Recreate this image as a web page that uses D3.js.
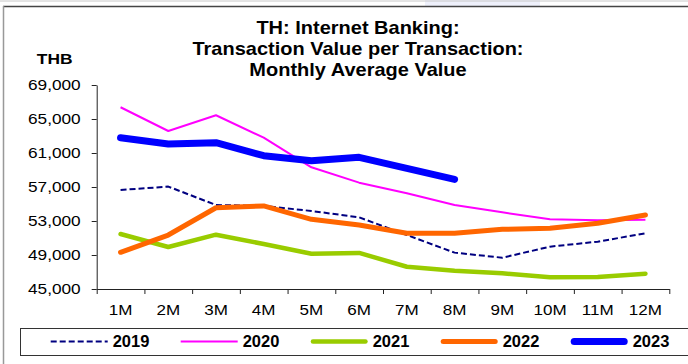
<!DOCTYPE html>
<html>
<head>
<meta charset="utf-8">
<script src="https://cdn.jsdelivr.net/npm/d3@7"></script>
<style>
  html, body { margin: 0; padding: 0; background: #fff; }
  svg { display: block; font-family: "Liberation Sans", Arial, sans-serif; }
</style>
</head>
<body>
<svg id="chart" width="688" height="364"></svg>
<script>
// Monthly average value per internet-banking transaction (THB)
const months = ["1M", "2M", "3M", "4M", "5M", "6M", "7M", "8M", "9M", "10M", "11M", "12M"];
const yTicks = [45000, 49000, 53000, 57000, 61000, 65000, 69000];
const titleLines = ["TH: Internet Banking:", "Transaction Value per Transaction:", "Monthly Average Value"];

const v2019 = [56650, 57050, 54880, 54770, 54180, 53430, 51350, 49280, 48680, 49980, 50570, 51550];
const v2020 = [66380, 63590, 65440, 62800, 59320, 57510, 56260, 54880, 54020, 53200, 53100, 53150];
const v2021 = [51470, 49940, 51390, 50290, 49150, 49240, 47620, 47150, 46850, 46380, 46410, 46800];
const v2022 = [49320, 51350, 54560, 54770, 53200, 52530, 51550, 51550, 52020, 52140, 52730, 53710];
const v2023 = [62800, 62060, 62210, 60680, 60090, 60490, 59200, 57900, null, null, null, null];

const series = [
  { name: "2019", values: v2019, color: "#000080", width: 2, dash: "6,3", cap: "butt" },
  { name: "2020", values: v2020, color: "#FF00FF", width: 2, dash: null, cap: "butt" },
  { name: "2021", values: v2021, color: "#99CC00", width: 4.5, dash: null, cap: "round" },
  { name: "2022", values: v2022, color: "#FF6600", width: 5, dash: null, cap: "round" },
  { name: "2023", values: v2023, color: "#0000FF", width: 7, dash: null, cap: "round" }
];

const svg = d3.select("#chart");

// frame lines
svg.append("rect").attr("x", 425).attr("y", 0).attr("width", 115).attr("height", 6)
  .attr("fill", "#eef0fb");
svg.append("line").attr("x1", 0).attr("x2", 688).attr("y1", 1).attr("y2", 1)
  .attr("stroke", "#c8c8c8").attr("stroke-width", 1);
svg.append("line").attr("x1", 3).attr("x2", 688).attr("y1", 6.5).attr("y2", 6.5)
  .attr("stroke", "#444").attr("stroke-width", 1.5);
svg.append("line").attr("x1", 3.5).attr("x2", 3.5).attr("y1", 6).attr("y2", 364)
  .attr("stroke", "#999").attr("stroke-width", 1.5);

// scales
const xBand = d3.scaleBand().domain(months).range([96.7, 669.3]).padding(0);
const xPos = m => xBand(m) + xBand.bandwidth() / 2;
const xEdge = d3.scaleLinear().domain([0, months.length]).range([96.7, 669.3]);
const y = d3.scaleLinear().domain([45000, 69000]).range([289, 85]);

// horizontally widened text helper
function wideText(g, x, yy, str, opts) {
  return g.append("text")
    .attr("transform", `translate(${x},${yy}) scale(${opts.sx},1)`)
    .attr("text-anchor", opts.anchor || "middle")
    .attr("font-size", opts.size)
    .attr("font-weight", opts.weight || "normal")
    .attr("fill", "#000")
    .text(str);
}

// title
titleLines.forEach((t, i) => {
  wideText(svg, 358, 33.5 + i * 21, t, { sx: 1.13, size: "17.7px", weight: "bold" });
});
wideText(svg, 54.7, 64.3, "THB", { sx: 1.13, size: "15.4px", weight: "bold" });

// y axis
const yAxis = svg.append("g").attr("transform", "translate(96.7,0)")
  .call(d3.axisLeft(y).tickValues(yTicks).tickFormat(d3.format(",")).tickSizeInner(5).tickSizeOuter(0));
yAxis.select(".domain").attr("stroke", "#222");
yAxis.selectAll(".tick line").attr("stroke", "#222");
yAxis.selectAll(".tick text")
  .attr("x", null)
  .attr("transform", "translate(-16,0) scale(1.12,1)")
  .attr("font-size", "15.4px")
  .attr("font-family", "'Liberation Sans', Arial, sans-serif")
  .attr("fill", "#000");

// x axis: tick marks at category edges, labels at category centres
const xTickAxis = svg.append("g").attr("transform", "translate(0,289)")
  .call(d3.axisBottom(xEdge).ticks(months.length).tickFormat("").tickSizeInner(5).tickSizeOuter(0));
xTickAxis.select(".domain").attr("stroke", "#222");
xTickAxis.selectAll(".tick line").attr("stroke", "#222");

const xLabels = svg.append("g").attr("transform", "translate(0,289)")
  .call(d3.axisBottom(xBand).tickSize(0).tickPadding(0));
xLabels.select(".domain").remove();
xLabels.selectAll(".tick text")
  .attr("y", null).attr("dy", null)
  .attr("transform", "translate(0,26) scale(1.1,1)")
  .attr("font-size", "15.5px")
  .attr("font-family", "'Liberation Sans', Arial, sans-serif")
  .attr("fill", "#000");

// series lines
const line = d3.line()
  .defined(d => d.v !== null)
  .x(d => xPos(d.m))
  .y(d => y(d.v))
  .curve(d3.curveLinear);

series.forEach(s => {
  const pts = months.map((m, i) => ({ m, v: s.values[i] }));
  svg.append("path")
    .datum(pts)
    .attr("d", line)
    .attr("fill", "none")
    .attr("stroke", s.color)
    .attr("stroke-width", s.width)
    .attr("stroke-linejoin", "round")
    .attr("stroke-linecap", s.cap)
    .attr("stroke-dasharray", s.dash);
});

// legend
svg.append("rect").attr("x", 20.5).attr("y", 328.5).attr("width", 700).attr("height", 27)
  .attr("fill", "none").attr("stroke", "#333").attr("stroke-width", 1);
series.forEach((s, i) => {
  const x0 = 50.7 + i * 130;
  const inset = s.cap === "round" ? s.width / 2 : 0;
  svg.append("line")
    .attr("x1", x0 + inset).attr("x2", x0 + 57 - inset)
    .attr("y1", 341.5).attr("y2", 341.5)
    .attr("stroke", s.color)
    .attr("stroke-width", s.width)
    .attr("stroke-linecap", s.cap)
    .attr("stroke-dasharray", s.dash);
  wideText(svg, x0 + 62, 347.3, s.name, { sx: 1.03, size: "16px", weight: "bold", anchor: "start" });
});
</script>
</body>
</html>
